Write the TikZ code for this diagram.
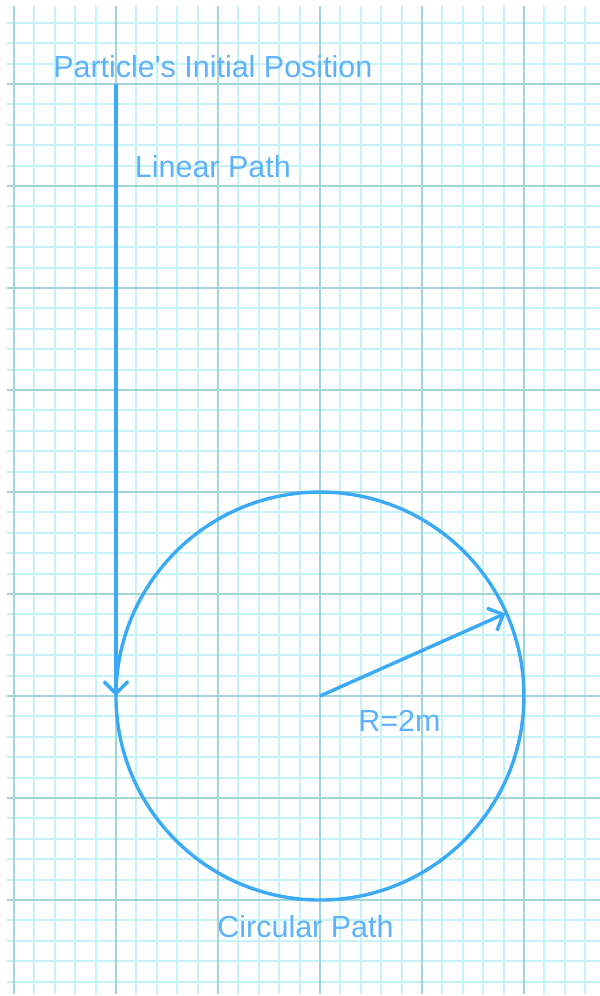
\documentclass[tikz,border=0pt]{standalone}
\usepackage{fontspec}
\setmainfont{Liberation Sans}
\usetikzlibrary{arrows.meta}

\definecolor{pathblue}{HTML}{3AA9F6}
\definecolor{labelblue}{HTML}{5DB1FF}
\definecolor{gridminor}{HTML}{C6F3F6}
\definecolor{gridmajor}{HTML}{A3D4DA}

\tikzset{
  pathline/.style={draw=pathblue, line width=1.9pt},
  pathlabel/.style={text=labelblue, font=\fontsize{17}{19}\selectfont, inner sep=0pt, anchor=base},
  barb/.style={-{Straight Barb[length=2.4mm,width=4.8mm]}}
}

\begin{document}
\begin{tikzpicture}[x=2cm,y=2cm]
    \useasboundingbox (-3.137,-2.941) rectangle (2.745,6.824);
    % Millimeterpapier:
    \begin{scope}
        \clip (-3.07,-2.92) rectangle (2.745,6.765);
        \draw[gridminor, line width=1.1pt, step=0.2] (-3.2,-3) grid (2.8,6.8); % feine Linien
        \draw[gridmajor, line width=1.2pt, step=1] (-3.2,-3) grid (2.8,6.8); % grobe Linien
    \end{scope}
    % Punkte:
    \coordinate (centre) at (0,0);
    \coordinate (start) at (-2,6);
    \coordinate (entry) at (-2,0);
    \coordinate (rim) at (24:1.99);
    % Bahnen:
    \draw[pathline] (centre) circle (2); % Kreisbahn
    \draw[pathline, barb] (start) -- (entry); % gerade Bahn
    \draw[pathline, barb] (centre) -- (rim); % Radius
    % Beschriftungen:
    \node[pathlabel] (initlabel) at (-1.05,6.069) {Particle\textquotesingle s Initial Position};
    \node[pathlabel] (linlabel) at (-1.05,5.08) {Linear Path};
    \node[pathlabel] (radlabel) at (0.78,-0.35) {R=2m};
    \node[pathlabel] (circlabel) at (-0.142,-2.363) {Circular Path};
\end{tikzpicture}
\end{document}
